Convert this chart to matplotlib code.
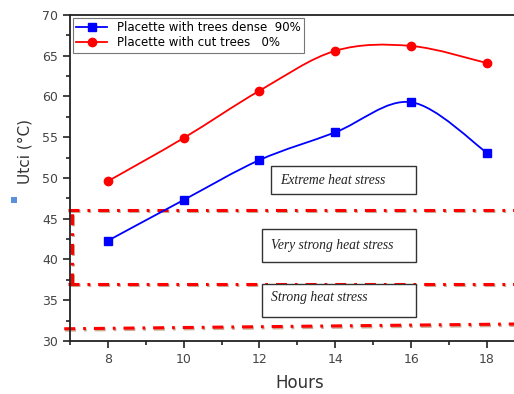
import numpy as np
import matplotlib.pyplot as plt
from matplotlib.path import Path
from matplotlib.patches import PathPatch, Rectangle
import matplotlib.patheffects as pe
from matplotlib.ticker import MultipleLocator

# data
hours = [8, 10, 12, 14, 16, 18]
utci_dense = [42.3, 47.3, 52.2, 55.6, 59.3, 53.1]
utci_cut = [49.6, 54.9, 60.7, 65.6, 66.2, 64.1]
label_dense = "Placette with trees dense  90%"
label_cut = "Placette with cut trees   0%"

# stress thresholds (dash-dot lines)
thr_upper = 46.1
thr_mid = 37.0
thr_low = (31.5, 32.1)
zones = ["Extreme heat stress", "Very strong heat stress", "Strong heat stress"]


def smooth_path(x, y, tension=1 / 6):
    # Catmull-Rom segments as cubic Bezier curves
    x = np.asarray(x, float)
    y = np.asarray(y, float)
    px = np.concatenate([[x[0]], x, [x[-1]]])
    py = np.concatenate([[y[0]], y, [y[-1]]])
    verts = [(x[0], y[0])]
    codes = [Path.MOVETO]
    for i in range(1, len(x)):
        c1 = (px[i] + (px[i + 1] - px[i - 1]) * tension,
              py[i] + (py[i + 1] - py[i - 1]) * tension)
        c2 = (px[i + 1] - (px[i + 2] - px[i]) * tension,
              py[i + 1] - (py[i + 2] - py[i]) * tension)
        verts += [c1, c2, (px[i + 1], py[i + 1])]
        codes += [Path.CURVE4] * 3
    return Path(verts, codes)


fig = plt.figure(figsize=(5.14, 3.94), dpi=100)
ax = fig.add_axes([0.136, 0.1345, 0.885, 0.8275])
ax.set_xlim(7, 19)
ax.set_ylim(30, 70)

for yv, col, mk, lab in [(utci_dense, "#0000ff", "s", label_dense),
                         (utci_cut, "#ff0000", "o", label_cut)]:
    ax.add_patch(PathPatch(smooth_path(hours, yv), fill=False, edgecolor=col, lw=1.3, zorder=3))
    ax.plot(hours, yv, linestyle="none", marker=mk, color=col, markersize=6, zorder=4)
    ax.plot([], [], color=col, marker=mk, markersize=6, lw=1.3, label=lab)

shadow = [pe.SimpleLineShadow(offset=(0.6, -1.0), shadow_color="#8b4513", alpha=0.45), pe.Normal()]
dd = dict(color="#ff0000", lw=2.2, dashes=(3.6, 2.6, 0.9, 2.6), path_effects=shadow, zorder=2,
          clip_on=False)
ax.plot([6.95, 19], [thr_upper, thr_upper], **dd)
ax.plot([6.95, 19], [thr_mid, thr_mid], **dd)
ax.plot([6.85, 19], list(thr_low), **dd)
ax.plot([7.05, 7.05], [thr_mid, thr_upper], **dd)

# annotation boxes
boxes = [(12.30, 48.04, 3.83, 3.43, 12.55, 49.75),
         (12.06, 39.69, 4.07, 4.05, 12.30, 41.75),
         (12.06, 32.94, 4.07, 4.05, 12.30, 35.3)]
for (bx, by, bw, bh, tx, ty), name in zip(boxes, zones):
    ax.add_patch(Rectangle((bx, by), bw, bh, fill=True, facecolor="white",
                           edgecolor="#333333", lw=1.0, zorder=5))
    ax.text(tx, ty, name, family="Liberation Serif", style="italic", fontsize=9.8,
            va="center", ha="left", color="#222222", zorder=6)

ax.xaxis.set_major_locator(MultipleLocator(2))
ax.xaxis.set_minor_locator(MultipleLocator(1))
ax.yaxis.set_major_locator(MultipleLocator(5))
ax.yaxis.set_minor_locator(MultipleLocator(2.5))
ax.tick_params(which="both", direction="out", colors="#222222", width=1.2,
               labelsize=9, labelcolor="#444444")
ax.tick_params(which="major", length=5)
ax.tick_params(which="minor", length=3)
ax.set_xticks([8, 10, 12, 14, 16, 18])
for s in ax.spines.values():
    s.set_linewidth(1.3)
    s.set_color("#222222")

ax.set_xlabel("Hours", fontsize=12, color="#333333")
ax.xaxis.set_label_coords(0.505, -0.1)
ax.set_ylabel("Utci (°C)", fontsize=11, color="#333333")
ax.yaxis.set_label_coords(-0.083, 0.58)

leg = ax.legend(loc="upper left", bbox_to_anchor=(0.0, 1.0), fontsize=8.5, frameon=True,
                fancybox=False, edgecolor="#555555", borderaxespad=0.25,
                handlelength=2.6, labelspacing=0.15, borderpad=0.3)
leg.get_frame().set_linewidth(0.8)
leg.set_zorder(7)

# stray marker left of the y label
fig.patches.append(Rectangle((0.021, 0.485), 0.012, 0.016, transform=fig.transFigure,
                             facecolor="#5b8fd6", edgecolor="none"))

fig.savefig("out.png", dpi=100)
